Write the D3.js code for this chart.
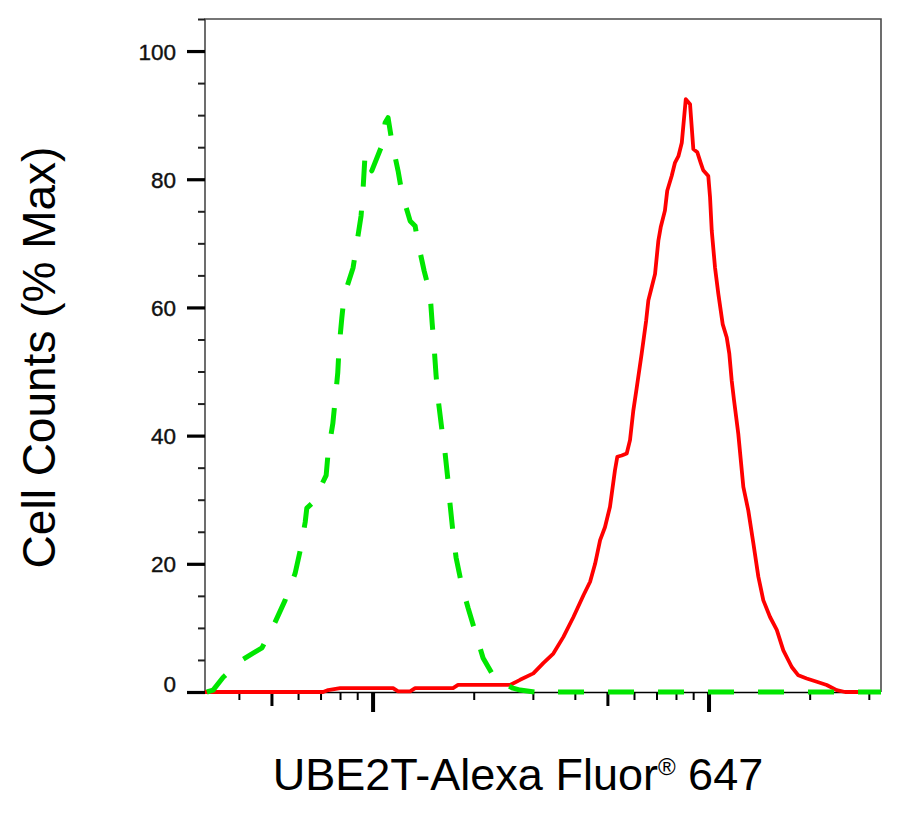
<!DOCTYPE html>
<html>
<head>
<meta charset="utf-8">
<script src="https://cdn.jsdelivr.net/npm/d3@7"></script>
<style>
  body { margin: 0; background: #fff; }
  svg { display: block; font-family: "Liberation Sans", Arial, Helvetica, sans-serif; }
</style>
</head>
<body>
<svg id="chart"></svg>
<script>
// [A] Datos del histograma ---------------------------------------------------
// Control de isotipo (verde, discontinuo)
const isoX = [320, 334, 358, 410, 431, 467, 511, 547, 586, 607, 628, 635, 663, 725, 735, 759, 771, 785, 792, 807,
    820, 872, 894, 921, 933, 947, 991, 1061, 1086, 1108, 1139, 1187, 1220, 1289, 1334, 1361, 1419, 1478, 1499, 1520,
    1540, 1561, 1601, 1637, 1671, 1694, 1730, 1766, 1836, 1918, 2036, 2125, 2334, 2437, 2610, 2739, 3034, 3280, 3480, 32500];
const isoY = [0, 0.3, 2.3, 5.1, 5.8, 6.9, 10.9, 14.3, 18.5, 22.1, 26.5, 28.7, 29.6, 33.8, 37.4, 41.9, 45.5, 49.8, 53.7, 58.3,
    61.8, 66.2, 69.9, 74.3, 78.2, 84.0, 81.3, 85.2, 88.8, 89.6, 85.7, 81.3, 77.7, 73.5, 72.7, 70.1, 65.7, 62.1, 57.6, 53.7,
    49.4, 45.8, 41.1, 37.4, 33.0, 29.4, 24.8, 21.0, 16.7, 13.1, 8.6, 5.3, 1.6, 1.4, 0.6, 0.3, 0, 0.3, 0, 0];

// UBE2T (rojo, continuo)
const ubeX = [316, 710, 735, 798, 1147, 1187, 1289, 1334, 1730, 1790, 2557, 2739, 3000, 3211, 3440, 3686, 3948, 4229, 4426, 4580,
    4740, 4900, 5072, 5248, 5333, 5496, 5688, 5818, 5951, 6089, 6303, 6497, 6598, 6747, 6906, 7066, 7180, 7391, 7509, 7741,
    7921, 8107, 8297, 8527, 8780, 8980, 9230, 9440, 9610, 9950, 10069, 10187, 10420, 10660, 10980, 11290, 11490, 11680, 11870, 12220,
    12650, 13090, 13550, 14020, 14510, 15190, 15910, 16640, 17630, 18440, 19530, 20930, 22400, 23990, 25400, 32500];
const ubeY = [0, 0, 0.3, 0.6, 0.6, 0.1, 0.1, 0.6, 0.6, 1.1, 1.1, 1.9, 2.9, 4.5, 6.0, 8.6, 11.7, 15.1, 17.2, 20.0,
    23.7, 25.7, 28.9, 34.6, 36.7, 36.9, 37.2, 39.3, 43.9, 47.4, 52.8, 57.9, 61.1, 63.1, 65.2, 70.4, 72.5, 75.1, 78.2, 80.5,
    82.6, 83.6, 85.7, 92.5, 91.7, 84.7, 84.2, 82.6, 81.4, 80.5, 77.2, 72.0, 66.2, 62.1, 57.4, 55.3, 52.8, 48.6, 45.5, 40.3,
    32.0, 28.3, 23.2, 18.0, 14.3, 11.7, 9.7, 6.5, 3.9, 2.6, 2.1, 1.6, 1.1, 0.3, 0, 0];

// Ejes
const xDomain = [316, 32500];
const yDomain = [0, 105];
const yMajorTicks = [0, 20, 40, 60, 80, 100];
const yMinorTicks = [5, 10, 15, 25, 30, 35, 45, 50, 55, 65, 70, 75, 85, 90, 95, 105];
const yTitle = "Cell Counts (% Max)";
const xTitle = ["UBE2T-Alexa Fluor", "®", " 647"];

// [B] Configuración -----------------------------------------------------------
const width = 899;
const height = 821;
const plot = { left: 205, right: 881, top: 19, bottom: 692 };

const svg = d3.select("#chart")
    .attr("width", width)
    .attr("height", height);

const x = d3.scaleLog().domain(xDomain).range([plot.left, plot.right]);
const y = d3.scaleLinear().domain(yDomain).range([plot.bottom, plot.top]);

// [C] Marco ---------------------------------------------------------------------
svg.append("path")
    .attr("d", `M${plot.left},${plot.bottom}V${plot.top}H${plot.right}V${plot.bottom}`)
    .attr("fill", "none")
    .attr("stroke", "#4a4a4a")
    .attr("stroke-width", 1.6);

// [D] Eje Y ---------------------------------------------------------------------
const yMajor = svg.append("g")
    .attr("transform", `translate(${plot.left},0)`)
    .call(d3.axisLeft(y).tickValues(yMajorTicks).tickSize(18).tickPadding(11));
yMajor.select(".domain").remove();
yMajor.selectAll(".tick line").attr("stroke", "#000").attr("stroke-width", 3.2);
yMajor.selectAll(".tick text")
    .attr("font-size", 22.5)
    .attr("fill", "#111")
    .attr("stroke", "#111")
    .attr("stroke-width", 0.4)
    .attr("font-family", "'Liberation Sans', Arial, sans-serif")
    .attr("dy", d => d === 0 ? "-0.02em" : "0.36em");

const yMinor = svg.append("g")
    .attr("transform", `translate(${plot.left},0)`)
    .call(d3.axisLeft(y).tickValues(yMinorTicks).tickSize(7).tickFormat(""));
yMinor.select(".domain").remove();
yMinor.selectAll(".tick line").attr("stroke", "#222").attr("stroke-width", 2);

// [E] Eje X (logarítmico, sin etiquetas) ----------------------------------------
const xTicks = x.ticks().filter(v => v >= xDomain[0] && v <= xDomain[1]);
const lead = v => Math.round(v / Math.pow(10, Math.floor(Math.log10(v) + 1e-9)));

svg.append("g")
    .selectAll("line")
    .data(xTicks)
    .join("line")
    .attr("x1", d => x(d))
    .attr("x2", d => x(d))
    .attr("y1", plot.bottom)
    .attr("y2", d => plot.bottom + (lead(d) === 1 ? 20 : lead(d) === 5 ? 14 : 8))
    .attr("stroke", "#000")
    .attr("stroke-width", d => lead(d) === 1 ? 4 : lead(d) === 5 ? 3 : 2);

svg.append("line")
    .attr("x1", plot.left).attr("x2", plot.right)
    .attr("y1", plot.bottom + 0.5).attr("y2", plot.bottom + 0.5)
    .attr("stroke", "#000")
    .attr("stroke-width", 1.6);

// [F] Curvas --------------------------------------------------------------------
const line = d3.line()
    .x(d => x(d[0]))
    .y(d => y(d[1]));

svg.append("path")
    .datum(d3.zip(ubeX, ubeY))
    .attr("d", line)
    .attr("fill", "none")
    .attr("stroke", "#ff0000")
    .attr("stroke-width", 3.8)
    .attr("stroke-linejoin", "round");

svg.append("path")
    .datum(d3.zip(isoX, isoY))
    .attr("d", line)
    .attr("fill", "none")
    .attr("stroke", "#00e600")
    .attr("stroke-width", 5)
    .attr("stroke-dasharray", "26,24")
    .attr("stroke-linejoin", "round");

// [G] Títulos de ejes ------------------------------------------------------------
svg.append("text")
    .attr("transform", `translate(55,${(150 + 565) / 2}) rotate(-90)`)
    .attr("text-anchor", "middle")
    .attr("font-size", 46)
    .attr("fill", "#000")
    .text(yTitle);

const xt = svg.append("text")
    .attr("x", 518)
    .attr("y", 790)
    .attr("text-anchor", "middle")
    .attr("font-size", 45)
    .attr("fill", "#000");
xt.append("tspan").text(xTitle[0]);
xt.append("tspan").attr("font-size", 24).attr("dy", -15).text(xTitle[1]);
xt.append("tspan").attr("dy", 15).text(xTitle[2]);
</script>
</body>
</html>
